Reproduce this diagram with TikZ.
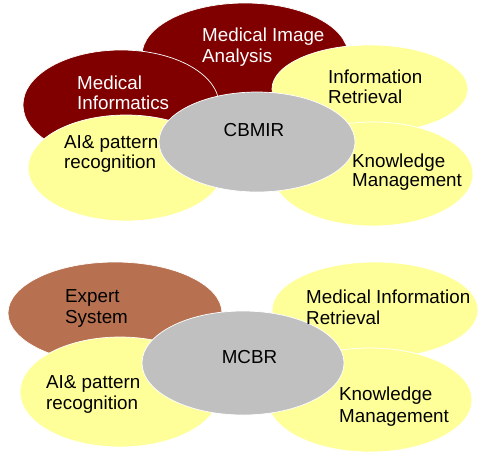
\documentclass[tikz,border=0pt]{standalone}
\usepackage{fontspec}
\setmainfont{Liberation Sans}
\usetikzlibrary{shapes.geometric}
\definecolor{maroon}{RGB}{128,0,0}
\definecolor{paleyel}{RGB}{255,255,153}
\definecolor{midgray}{RGB}{192,192,192}
\definecolor{clay}{RGB}{184,113,80}
\begin{document}
\begin{tikzpicture}[x=1pt,y=-1pt,
  blob/.style={ellipse,draw=white,line width=0.7pt,inner sep=0pt},
  lbl/.style={anchor=base west,inner sep=0pt,font=\fontsize{18.8}{21}\selectfont},
  lblc/.style={anchor=base,inner sep=0pt,font=\fontsize{18.8}{21}\selectfont}]
\useasboundingbox (0,0) rectangle (478,452);
% top group
\node[blob,fill=maroon,minimum width=206pt,minimum height=104pt] (mia) at (245,55) {};
\node[blob,fill=maroon,minimum width=196pt,minimum height=110pt] (mi) at (121,105) {};
\node[blob,fill=paleyel,minimum width=196pt,minimum height=88pt] (ir) at (370,89) {};
\node[blob,fill=paleyel,minimum width=196pt,minimum height=106pt] (ai) at (126,168) {};
\node[blob,fill=paleyel,minimum width=200pt,minimum height=104pt] (km) at (373,174) {};
\node[blob,fill=midgray,minimum width=196pt,minimum height=100pt] (cb) at (257,142) {};
\node[lbl,text=white] (miaA) at (202,41.5) {Medical Image};
\node[lbl,text=white] (miaB) at (202,63) {Analysis};
\node[lbl,text=white] (miA) at (77,89) {Medical};
\node[lbl,text=white] (miB) at (77,109) {Informatics};
\node[lbl] (irA) at (328,83) {Information};
\node[lbl] (irB) at (328,103) {Retrieval};
\node[lbl] (aiA) at (64,148) {AI\& pattern};
\node[lbl] (aiB) at (64,168) {recognition};
\node[lbl] (kmA) at (352,167) {Knowledge};
\node[lbl] (kmB) at (352,186) {Management};
\node[lblc] (cbT) at (254,136) {CBMIR};
% bottom group
\node[blob,fill=clay,minimum width=214pt,minimum height=102pt] (es) at (115,313) {};
\node[blob,fill=paleyel,minimum width=206pt,minimum height=96pt] (mir) at (375,310) {};
\node[blob,fill=paleyel,minimum width=200pt,minimum height=110pt] (ai2) at (120,392) {};
\node[blob,fill=paleyel,minimum width=204pt,minimum height=104pt] (km2) at (370,400) {};
\node[blob,fill=midgray,minimum width=202pt,minimum height=104pt] (mc) at (243,363) {};
\node[lbl] (esA) at (65,302) {Expert};
\node[lbl] (esB) at (65,323) {System};
\node[lbl] (mirA) at (306,303) {Medical Information};
\node[lbl] (mirB) at (306,324) {Retrieval};
\node[lbl] (ai2A) at (46,388) {AI\& pattern};
\node[lbl] (ai2B) at (46,409) {recognition};
\node[lbl] (km2A) at (339,400) {Knowledge};
\node[lbl] (km2B) at (339,422) {Management};
\node[lblc] (mcT) at (249.5,363) {MCBR};
\end{tikzpicture}
\end{document}
